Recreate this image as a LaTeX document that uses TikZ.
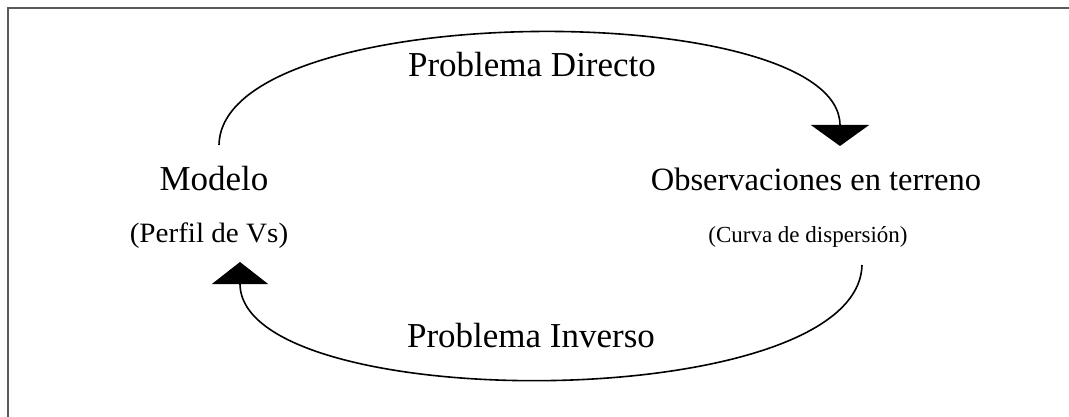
\documentclass[tikz,border=0pt]{standalone}
\usepackage{fontspec}
\setmainfont{Liberation Serif}
\usetikzlibrary{arrows.meta}
\begin{document}
\begin{tikzpicture}[x=1pt,y=-1pt,
  lbl/.style={anchor=base,inner sep=0pt,font=\fontsize{32}{36}\selectfont},
  sub/.style={anchor=base,inner sep=0pt,font=\fontsize{23}{26}\selectfont},
  flow/.style={line width=1.6pt,black},
  frame/.style={line width=2.6pt,black!65}]
\useasboundingbox (0,0) rectangle (1069,417);
\draw[frame] (8,417) -- (8,8) -- (1069,8);
\node[lbl,font=\fontsize{35}{40}\selectfont] (mod) at (214,190) {Modelo};
\node[sub,font=\fontsize{28}{32}\selectfont,xscale=1.04] (perf) at (209,242) {(Perfil de Vs)};
\node[lbl,font=\fontsize{32.5}{36}\selectfont] (obs) at (816,190) {Observaciones en terreno};
\node[sub] (curv) at (808,242) {(Curva de dispersión)};
\node[lbl,font=\fontsize{35}{40}\selectfont] (dir) at (532,77) {Problema Directo};
\node[lbl,font=\fontsize{35}{40}\selectfont] (inv) at (531,347) {Problema Inverso};
\coordinate (a1) at (219,145);
\coordinate (a2) at (840,146);
\coordinate (b1) at (862,265);
\coordinate (b2) at (240,262);
\draw[flow,-{Triangle[width=58pt,length=21pt]}] (a1) .. controls (222,-3) and (840,-3) .. (a2);
\draw[flow,-{Triangle[width=56pt,length=22pt]}] (b1) .. controls (858,416) and (240,416) .. (b2);
\end{tikzpicture}
\end{document}
